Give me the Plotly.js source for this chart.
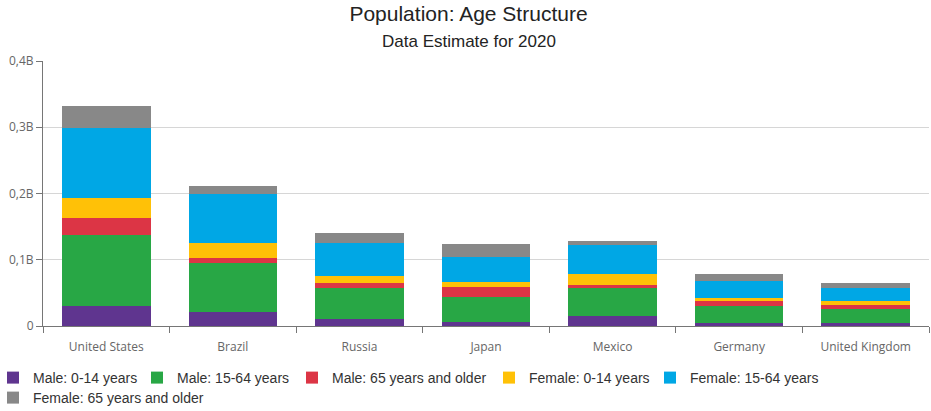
<!DOCTYPE html>
<html>
<head>
<meta charset="utf-8">
<script src="https://cdn.plot.ly/plotly-3.0.1.min.js"></script>
<style>html,body{margin:0;padding:0;background:#fff;}#chart{width:931px;height:411px;}</style>
</head>
<body>
<div id="chart"></div>
<script>
const countries = ["United States", "Brazil", "Russia", "Japan", "Mexico", "Germany", "United Kingdom"];
const male0to14 = [30.2e6, 21.1e6, 10.8e6, 6.0e6, 15.1e6, 4.5e6, 4.5e6];
const male15to64 = [107e6, 73.5e6, 47e6, 37.7e6, 42.7e6, 26.2e6, 21.1e6];
const male65plus = [25.7e6, 8.0e6, 7.0e6, 15.1e6, 4.0e6, 7.0e6, 6.0e6];
const female0to14 = [30.7e6, 22.6e6, 10.6e6, 8.0e6, 17.1e6, 4.5e6, 6.0e6];
const female15to64 = [106e6, 74.5e6, 49.8e6, 37.2e6, 43.3e6, 25.7e6, 20.1e6];
const female65plus = [32e6, 11.6e6, 15.1e6, 19.6e6, 6.0e6, 10.6e6, 7.0e6];
const seriesNames = ["Male: 0-14 years", "Male: 15-64 years", "Male: 65 years and older", "Female: 0-14 years", "Female: 15-64 years", "Female: 65 years and older"];
const seriesColors = ["#5f358f", "#28a745", "#dc3545", "#ffc107", "#00a7e5", "#888888"];
const yTickVals = [0, 0.1e9, 0.2e9, 0.3e9, 0.4e9];
const yTickText = ["0", "0,1B", "0,2B", "0,3B", "0,4B"];

const seriesValues = [male0to14, male15to64, male65plus, female0to14, female15to64, female65plus];
const legendIds = ["legend", "legend2", "legend3", "legend4", "legend5", "legend6"];
const traces = seriesValues.map((vals, i) => ({
  type: "bar",
  x: countries,
  y: vals,
  name: seriesNames[i],
  legend: legendIds[i],
  marker: {color: seriesColors[i], line: {width: 0}},
  hoverinfo: "x+y+name"
}));

const plotL = 43, plotT = 61, plotH = 265, plotW = 886;
const legendFont = {size: 14, color: "#333", family: "Liberation Sans, Arial, sans-serif"};
// legend placement (pixel positions of label text start and row top)
const legendTextX = [33, 177, 332, 529, 690, 33];
const legendRowY = [362, 362, 362, 362, 362, 382];

const layout = {
  width: 931, height: 411,
  margin: {l: plotL, r: 2, t: plotT, b: 85, autoexpand: false},
  barmode: "stack",
  bargap: 0.3,
  paper_bgcolor: "#fff",
  plot_bgcolor: "#fff",
  font: {family: "Liberation Sans, Arial, sans-serif", color: "#333"},
  title: {
    text: "Population: Age Structure",
    font: {size: 21, color: "#232323", family: "Liberation Sans, Arial, sans-serif"},
    x: 468.5/931, xanchor: "center", xref: "container",
    y: 1 - 14/411, yanchor: "middle", yref: "container"
  },
  annotations: [{
    text: "Data Estimate for 2020",
    xref: "paper", yref: "paper",
    x: (468.5 - plotL)/plotW, xanchor: "center",
    y: 1 + 20/plotH, yanchor: "middle",
    showarrow: false,
    font: {size: 17, color: "#232323", family: "Liberation Sans, Arial, sans-serif"}
  }],
  xaxis: {
    type: "category",
    showline: true, linecolor: "#767676", linewidth: 1,
    ticks: "outside", tickson: "boundaries", ticklen: 6, tickcolor: "#767676",
    ticklabelstandoff: 10,
    tickfont: {size: 12, color: "#666", family: "Open Sans, Noto Sans, sans-serif"},
    showgrid: false
  },
  yaxis: {
    range: [0, 0.4e9],
    tickvals: yTickVals, ticktext: yTickText,
    showline: true, linecolor: "#767676", linewidth: 1,
    ticks: "outside", ticklen: 6, tickcolor: "#767676",
    gridcolor: "#d6d6d6", gridwidth: 1,
    zeroline: false,
    tickfont: {size: 12, color: "#666", family: "Open Sans, Noto Sans, sans-serif"}
  },
  showlegend: true
};

legendIds.forEach((id, i) => {
  layout[id] = {
    orientation: "h",
    x: (legendTextX[i] - 40 - plotL)/plotW, xanchor: "left",
    y: -(legendRowY[i] - plotT - plotH)/plotH, yanchor: "top",
    font: legendFont,
    bgcolor: "rgba(0,0,0,0)"
  };
});

Plotly.newPlot("chart", traces, layout, {displayModeBar: false, staticPlot: true});
</script>
</body>
</html>
